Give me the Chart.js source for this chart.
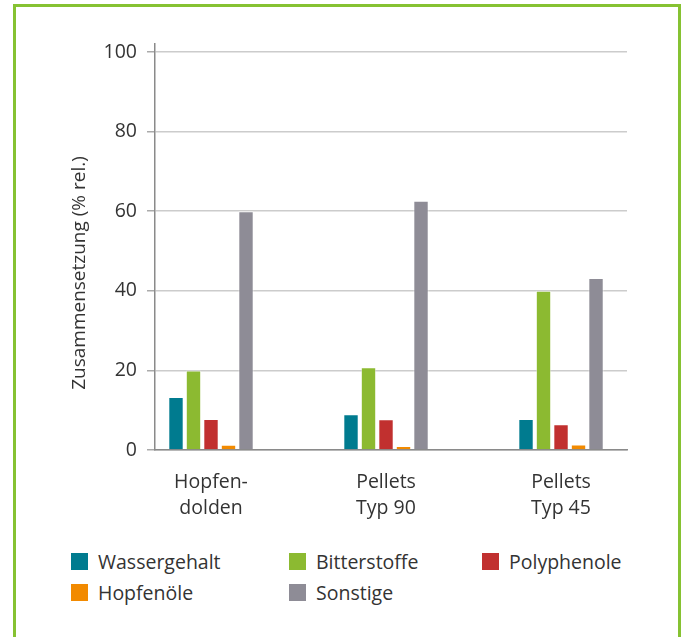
<!DOCTYPE html>
<html>
<head>
<meta charset="utf-8">
<script src="https://cdn.jsdelivr.net/npm/chart.js@4.4.1/dist/chart.umd.min.js"></script>
<style>
    html, body { margin: 0; padding: 0; background: #fff; }
    body { width: 687px; height: 637px; position: relative; overflow: hidden; font-family: "Open Sans", sans-serif; }
    #frame { position: absolute; left: 13px; top: 4px; width: 668px; height: 700px; border: 3px solid #86c232; box-sizing: border-box; }
    #wrap { position: absolute; left: 0; top: 0; width: 687px; height: 540px; }
    #legend { position: absolute; left: 71px; top: 550px; display: grid; grid-template-columns: 218px 193px 150px; row-gap: 8px; }
    .item { display: flex; align-items: center; font-size: 19.5px; color: #333; height: 23px; }
    .box { width: 17px; height: 17px; margin-right: 10px; flex: none; }
</style>
</head>
<body>
<div id="frame"></div>
<div id="wrap"><canvas id="barChart" width="687" height="540"></canvas></div>
<div id="legend"></div>
<script>
"use strict";
document.addEventListener("DOMContentLoaded", function () {
    var categories = [["Hopfen-", "dolden"], ["Pellets", "Typ 90"], ["Pellets", "Typ 45"]];
    var seriesNames = ["Wassergehalt", "Bitterstoffe", "Polyphenole", "Hopfenöle", "Sonstige"];
    var wassergehalt = [13.3, 9.0, 7.8];
    var bitterstoffe = [20.0, 20.8, 40.0];
    var polyphenole = [7.8, 7.7, 6.5];
    var hopfenoele = [1.3, 1.0, 1.4];
    var sonstige = [60.0, 62.6, 43.2];
    var yTicks = [0, 20, 40, 60, 80, 100];
    var yTitle = "Zusammensetzung (% rel.)";

    var colors = ["#007b8f", "#8cba31", "#c1302f", "#f28a00", "#8e8c96"];
    var values = [wassergehalt, bitterstoffe, polyphenole, hopfenoele, sonstige];
    var textColor = "#333333";
    var fontFamily = "'Open Sans'";

    // y axis title, drawn a bit lower than the axis middle like the original
    var yTitlePlugin = {
        id: "yTitle",
        afterDraw: function (chart) {
            var ctx = chart.ctx;
            ctx.save();
            ctx.translate(80, 273);
            ctx.rotate(-Math.PI / 2);
            ctx.fillStyle = textColor;
            ctx.font = "19px " + fontFamily;
            ctx.textAlign = "center";
            ctx.textBaseline = "middle";
            ctx.fillText(yTitle, 0, 0);
            ctx.restore();
        },
    };

    // ------------------------------------------------------- //
    // Bar Chart
    // ------------------------------------------------------ //
    var BARCHART = document.getElementById("barChart");
    var myBarChart = new Chart(BARCHART, {
        type: "bar",
        plugins: [yTitlePlugin],
        data: {
            datasets: seriesNames.map(function (name, i) {
                return {
                    label: name,
                    data: values[i].map(function (v, j) { return { x: j, y: v }; }),
                    backgroundColor: colors[i],
                    borderColor: "rgba(255,255,255,0.45)",
                    borderWidth: 1,
                    categoryPercentage: 0.5,
                    barPercentage: 0.88,
                };
            }),
        },
        options: {
            responsive: false,
            animation: false,
            layout: { padding: { left: 60, right: 60, top: 44, bottom: 0 } },
            plugins: {
                legend: { display: false },
                tooltip: { enabled: false },
            },
            scales: {
                x: {
                    type: "linear",
                    offset: false,
                    min: -0.32,
                    max: 2.377,
                    afterBuildTicks: function (axis) {
                        axis.ticks = categories.map(function (c, i) { return { value: i }; });
                    },
                    afterFit: function (axis) { axis.height = 90; },
                    grid: { display: false },
                    border: { color: "#8a8a8a", width: 1.5 },
                    ticks: {
                        color: textColor,
                        font: { family: fontFamily, size: 19.5, lineHeight: 1.3 },
                        padding: 12,
                        maxRotation: 0,
                        callback: function (v) { return categories[v]; },
                    },
                },
                y: {
                    min: 0,
                    max: 102,
                    afterBuildTicks: function (axis) {
                        axis.ticks = yTicks.map(function (v) { return { value: v }; });
                    },
                    afterFit: function (axis) { axis.width = 95; },
                    grid: { color: "#cccccc", lineWidth: 1.5, tickLength: 8, tickColor: "#aaaaaa" },
                    border: { color: "#8a8a8a", width: 1.5 },
                    ticks: {
                        color: textColor,
                        font: { family: fontFamily, size: 19.5 },
                        padding: 10,
                    },
                },
            },
        },
    });

    // ------------------------------------------------------- //
    // Legend (three columns)
    // ------------------------------------------------------ //
    var legendEl = document.getElementById("legend");
    myBarChart.data.datasets.forEach(function (ds) {
        var item = document.createElement("div");
        item.className = "item";
        var box = document.createElement("span");
        box.className = "box";
        box.style.background = ds.backgroundColor;
        item.appendChild(box);
        item.appendChild(document.createTextNode(ds.label));
        legendEl.appendChild(item);
    });
});
</script>
</body>
</html>
